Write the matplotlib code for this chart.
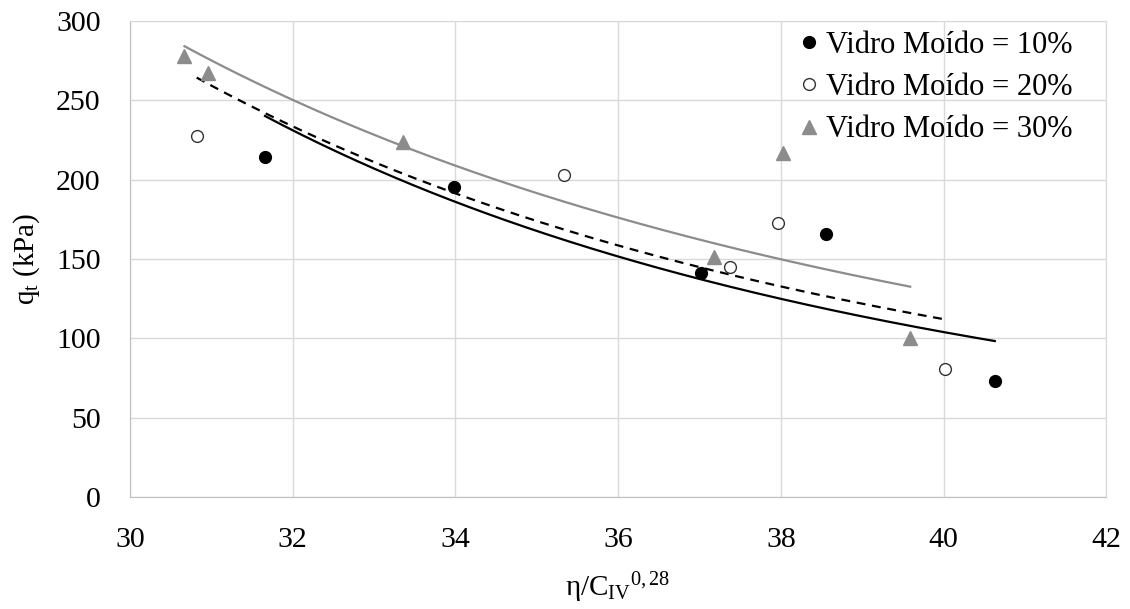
import numpy as np
import matplotlib
matplotlib.use("Agg")
import matplotlib.pyplot as plt

plt.rcParams["font.family"] = ["Liberation Serif", "DejaVu Serif"]
plt.rcParams["mathtext.fontset"] = "custom"
plt.rcParams["mathtext.rm"] = "Liberation Serif"
plt.rcParams["mathtext.it"] = "Liberation Serif:italic"

# data
x_10 = [31.66, 33.98, 37.02, 38.56, 40.63]
y_10 = [214, 195.5, 141, 166, 73]
x_20 = [30.82, 35.33, 37.37, 37.97, 40.02]
y_20 = [227.6, 203, 145, 172.5, 80.5]
x_30 = [30.67, 30.96, 33.36, 37.18, 38.03, 39.59]
y_30 = [278, 267, 224, 151.5, 217, 100.5]

labels = ["Vidro Moído = 10%", "Vidro Moído = 20%", "Vidro Moído = 30%"]
x_ticks = [30, 32, 34, 36, 38, 40, 42]
y_ticks = [0, 50, 100, 150, 200, 250, 300]

GRAY = "#8c8c8c"
GRID = "#d9d9d9"


def power_trend(xs, ys):
    # Excel-style power trendline: linear fit in log-log space
    xs = np.asarray(xs, float)
    ys = np.asarray(ys, float)
    b, ln_a = np.polyfit(np.log(xs), np.log(ys), 1)
    xx = np.linspace(xs.min(), xs.max(), 200)
    return xx, np.exp(ln_a) * xx ** b


fig = plt.figure(figsize=(11.3, 6.09), dpi=100)
ax = fig.add_axes([0.115, 0.184, 0.864, 0.7815])

ax.plot(x_10, y_10, "o", ms=8.5, color="black", label=labels[0], zorder=3)
ax.plot(x_20, y_20, "o", ms=8.5, mfc="white", mec="#333333", mew=1.0,
        label=labels[1], zorder=3)
ax.plot(x_30, y_30, "^", ms=10, color=GRAY, label=labels[2], zorder=3)

xx, yy = power_trend(x_10, y_10)
ax.plot(xx, yy, "-", color="black", lw=1.6, zorder=2)
xx, yy = power_trend(x_20, y_20)
ax.plot(xx, yy, "--", color="black", lw=1.6, dashes=(4, 3), zorder=2)
xx, yy = power_trend(x_30, y_30)
ax.plot(xx, yy, "-", color=GRAY, lw=1.6, zorder=2)

ax.set_xlim(30, 42)
ax.set_ylim(0, 300)
ax.set_xticks(x_ticks)
ax.set_yticks(y_ticks)
ax.grid(True, color=GRID, lw=1.0)
ax.set_axisbelow(True)
ax.tick_params(length=0, labelsize=21.5)
ax.tick_params(axis="x", pad=22)
ax.tick_params(axis="y", pad=21)
for s in ax.spines.values():
    s.set_color(GRID)
ax.spines["bottom"].set_color("#bfbfbf")
ax.spines["left"].set_color("#bfbfbf")

ax.set_xlabel(r"η/C$_{\rm IV}$$^{0,28}$", fontsize=21, labelpad=12)
ax.set_ylabel(r"q$_{\rm t}$ (kPa)", fontsize=21, labelpad=10)

ax.legend(loc="upper right", frameon=False, fontsize=22, handlelength=0.6,
          handletextpad=0.25, labelspacing=0.43, borderaxespad=0,
          borderpad=0, bbox_to_anchor=(1072 / 1130, 1 - 31 / 609),
          bbox_transform=fig.transFigure)

fig.savefig("out.png", dpi=100)
